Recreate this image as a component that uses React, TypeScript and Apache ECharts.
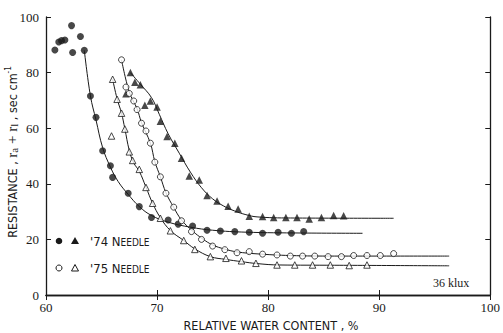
import React, { useEffect, useRef } from "react";
import * as echarts from "echarts";

// '74 needle, filled circles
const c74Points: number[][] = [
  [60.8, 88.1], [61.15, 91.0], [61.4, 91.5], [61.7, 91.7], [62.3, 96.9], [62.4, 87.2],
  [63.1, 93.0], [63.45, 88.0], [64.0, 71.6], [64.5, 63.9], [65.1, 51.9], [65.8, 46.5],
  [66.0, 42.3], [67.4, 36.6], [68.4, 31.8], [69.5, 27.9], [71.0, 27.0], [71.9, 25.5],
  [73.2, 24.8], [74.5, 23.3], [75.7, 23.0], [77.0, 22.8], [78.3, 22.6], [79.5, 22.2],
  [80.9, 22.6], [82.1, 22.2], [83.2, 22.8],
];
const c74Curve: number[][] = [
  [63.45, 88.0], [64.0, 71.6], [64.5, 63.0], [65.1, 53.0], [65.8, 46.0], [66.5, 40.8],
  [67.4, 36.2], [68.4, 31.8], [69.5, 28.6], [71.0, 26.2], [73.0, 24.4], [75.0, 23.3],
  [78.0, 22.6], [83.0, 22.3], [88.5, 22.2],
];
// '74 needle, filled triangles
const t74Points: number[][] = [
  [67.2, 72.4], [67.6, 80.0], [68.0, 76.5], [68.5, 75.6], [68.9, 68.3], [69.4, 69.8],
  [70.0, 67.6], [70.3, 62.5], [70.9, 57.0], [71.6, 54.6], [72.2, 49.2], [72.9, 42.8],
  [73.8, 41.4], [74.5, 35.8], [75.4, 33.8], [76.4, 31.9], [77.3, 30.9], [78.3, 28.3],
  [79.5, 28.2], [80.5, 27.9], [81.6, 27.9], [82.6, 27.9], [83.7, 27.3], [84.8, 27.9],
  [85.9, 28.6], [86.8, 28.5],
];
const t74Curve: number[][] = [
  [67.6, 80.0], [68.5, 75.8], [69.5, 71.0], [70.2, 65.0], [71.0, 58.0], [72.0, 51.0],
  [73.0, 44.2], [74.0, 38.6], [75.0, 34.6], [76.0, 32.0], [77.0, 30.2], [78.0, 28.9],
  [79.0, 28.1], [82.0, 27.7], [91.3, 27.6],
];
// '75 needle, open circles
const c75Points: number[][] = [
  [66.8, 84.6], [67.2, 74.8], [67.5, 72.5], [67.9, 69.8], [68.2, 66.7], [68.6, 61.8],
  [69.0, 59.0], [69.4, 54.6], [69.8, 47.8], [70.3, 42.5], [70.8, 36.6], [71.5, 31.6],
  [72.2, 26.7], [73.1, 22.8], [74.0, 20.0], [75.0, 17.6], [76.1, 16.3], [77.2, 15.2],
  [78.3, 15.6], [79.5, 14.7], [80.8, 14.4], [82.0, 14.0], [83.1, 14.0], [84.2, 14.0],
  [85.4, 13.8], [86.6, 13.8], [87.7, 14.2], [88.9, 14.2], [90.1, 14.2], [91.3, 14.9],
];
const c75Curve: number[][] = [
  [66.8, 84.6], [67.5, 73.0], [68.2, 67.0], [68.6, 62.0], [69.4, 54.6], [69.8, 48.0],
  [70.3, 42.5], [70.8, 36.8], [71.5, 31.5], [72.2, 27.0], [73.2, 23.0], [74.1, 20.2],
  [75.0, 18.0], [76.1, 16.5], [77.2, 15.5], [79.0, 14.8], [82.0, 14.2], [86.0, 14.0],
  [96.3, 14.0],
];
// '75 needle, open triangles
const t75Points: number[][] = [
  [65.9, 57.2], [66.0, 77.6], [66.4, 70.4], [66.8, 65.4], [67.1, 59.7], [67.5, 51.5],
  [67.8, 48.4], [68.4, 45.2], [69.0, 38.7], [69.6, 33.0], [70.3, 27.6], [71.2, 23.1],
  [72.4, 19.6], [73.4, 16.4], [74.8, 13.8], [76.2, 13.2], [77.6, 12.3], [78.9, 11.4],
  [80.8, 10.8], [82.4, 10.8], [84.0, 10.8], [85.6, 10.8], [87.3, 10.6], [88.9, 10.8],
];
const t75Curve: number[][] = [
  [66.0, 77.6], [66.4, 70.6], [66.8, 65.4], [67.1, 59.8], [67.5, 52.0], [67.9, 47.5],
  [68.4, 44.5], [69.0, 38.8], [69.6, 33.0], [70.3, 27.8], [71.2, 23.2], [72.4, 19.6],
  [73.4, 16.6], [74.8, 13.8], [76.2, 12.8], [77.6, 12.0], [79.0, 11.3], [81.0, 10.8],
  [86.0, 10.7], [96.3, 10.5],
];

const xTicks = [60, 70, 80, 90, 100];
const yTicks = [0, 20, 40, 60, 80, 100];

const INK = "#1a1a1a";
const SERIF = "'Liberation Serif', 'DejaVu Serif', serif";
const NARROW = "'Liberation Sans Narrow', 'DejaVu Sans Condensed', 'Roboto Condensed', 'DejaVu Sans', sans-serif";

export default function App() {
  const ref = useRef<HTMLDivElement>(null);
  useEffect(() => {
    if (!ref.current) return;
    document.body.style.margin = "0";
    const chart = echarts.init(ref.current, undefined, { renderer: "svg" });
    const curve = (data: number[][], color = INK) => ({
      type: "line",
      data,
      smooth: 0.4,
      symbol: "none",
      lineStyle: { color, width: 1 },
      z: 1,
      silent: true,
    });
    const scatter = (data: number[][], symbol: string, filled: boolean, size: number) => ({
      type: "scatter",
      data,
      symbol,
      symbolSize: size,
      itemStyle: filled
        ? { color: INK, borderWidth: 0 }
        : { color: "#fff", borderColor: INK, borderWidth: 1 },
      z: 3,
    });
    const axisCommon = {
      axisLine: { show: true, lineStyle: { color: INK, width: 1.3 } },
      axisTick: { show: true, inside: true, length: 5, lineStyle: { color: INK, width: 1 } },
      splitLine: { show: false },
    };
    chart.setOption({
      animation: false,
      backgroundColor: "#fff",
      grid: { left: 46, right: 5, top: 17, bottom: 38, containLabel: false },
      xAxis: [
        {
          type: "value", min: xTicks[0], max: xTicks[xTicks.length - 1], interval: 10,
          ...axisCommon,
          axisLabel: { color: INK, fontFamily: SERIF, fontSize: 13, margin: 6, showMaxLabel: true },
        },
        {
          type: "value", position: "top", min: xTicks[0], max: xTicks[xTicks.length - 1], interval: 10,
          ...axisCommon, axisLabel: { show: false },
        },
      ],
      yAxis: [
        {
          type: "value", min: yTicks[0], max: yTicks[yTicks.length - 1], interval: 20,
          ...axisCommon,
          axisLabel: { color: INK, fontFamily: SERIF, fontSize: 13, margin: 7 },
        },
        {
          type: "value", position: "right", min: yTicks[0], max: yTicks[yTicks.length - 1], interval: 20,
          ...axisCommon, axisLabel: { show: false },
        },
      ],
      series: [
        curve(c74Curve),
        curve(t74Curve),
        curve(c75Curve),
        curve(t75Curve),
        scatter(c74Points, "circle", true, 7),
        scatter(t74Points, "triangle", true, 7.5),
        scatter(c75Points, "circle", false, 6),
        scatter(t75Points, "triangle", false, 6.5),
      ],
      graphic: [
        {
          type: "text",
          x: 12, y: 152, rotation: Math.PI / 2,
          style: {
            text: "RESISTANCE , {r|r}{sub|a}{r| + r}{sub|l}{n| , sec cm}{sup|-1}",
            fontFamily: NARROW, fontSize: 12.5, fill: INK,
            align: "center", verticalAlign: "middle",
            rich: {
              r: { fontFamily: SERIF, fontSize: 15, fill: INK },
              sub: { fontFamily: SERIF, fontSize: 11, fill: INK, verticalAlign: "bottom", padding: [4, 0, 0, 0] },
              n: { fontFamily: NARROW, fontSize: 12.5, fill: INK },
              sup: { fontFamily: NARROW, fontSize: 8, fill: INK, verticalAlign: "top", padding: [0, 0, 6, 0] },
            },
          },
        },
        {
          type: "text",
          x: 271, y: 325,
          style: {
            text: "RELATIVE WATER CONTENT , %",
            fontFamily: NARROW, fontSize: 12.5, fill: INK,
            align: "center", verticalAlign: "middle",
          },
        },
        { type: "circle", shape: { cx: 59, cy: 241, r: 3.3 }, style: { fill: INK } },
        { type: "polygon", shape: { points: [[75, 237], [79, 244], [71, 244]] }, style: { fill: INK } },
        { type: "circle", shape: { cx: 59, cy: 268, r: 3 }, style: { fill: "#fff", stroke: INK, lineWidth: 1 } },
        { type: "polygon", shape: { points: [[75, 264.5], [78.5, 271], [71.5, 271]] }, style: { fill: "#fff", stroke: INK, lineWidth: 1 } },
        {
          type: "text", x: 90, y: 241,
          style: {
            text: "{b|'74 N}{s|EEDLE}",
            verticalAlign: "middle", align: "left",
            rich: {
              b: { fontFamily: NARROW, fontSize: 13, fill: INK, verticalAlign: "bottom" },
              s: { fontFamily: NARROW, fontSize: 10, fill: INK, verticalAlign: "bottom" },
            },
          },
        },
        {
          type: "text", x: 90, y: 268,
          style: {
            text: "{b|'75 N}{s|EEDLE}",
            verticalAlign: "middle", align: "left",
            rich: {
              b: { fontFamily: NARROW, fontSize: 13, fill: INK, verticalAlign: "bottom" },
              s: { fontFamily: NARROW, fontSize: 10, fill: INK, verticalAlign: "bottom" },
            },
          },
        },
        {
          type: "text", x: 433, y: 283,
          style: { text: "36 klux", fontFamily: SERIF, fontSize: 12, fill: INK, verticalAlign: "middle" },
        },
      ],
    });
    return () => chart.dispose();
  }, []);
  return <div ref={ref} style={{ width: 503, height: 333 }} />;
}
